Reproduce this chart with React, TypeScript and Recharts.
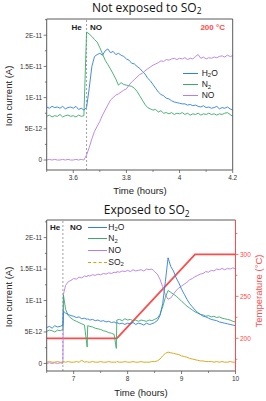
import React from 'react'
import { Line, LineChart, ReferenceLine, XAxis, YAxis } from 'recharts'

// ion currents are kept in units of 1E-12 A

// panel 1: not exposed to SO2
const timeA = [
    3.5, 3.51, 3.52, 3.53, 3.54, 3.55, 3.56, 3.57, 3.58, 3.59, 3.6, 3.61, 3.62, 3.63, 3.64, 3.65, 3.66, 3.67, 3.68, 3.69,
    3.7, 3.71, 3.72, 3.73, 3.74, 3.75, 3.76, 3.77, 3.78, 3.79, 3.8, 3.81, 3.82, 3.83, 3.84, 3.85, 3.86, 3.87, 3.88, 3.89,
    3.9, 3.91, 3.92, 3.93, 3.94, 3.95, 3.96, 3.97, 3.98, 3.99, 4, 4.01, 4.02, 4.03, 4.04, 4.05, 4.06, 4.07, 4.08, 4.09,
    4.1, 4.11, 4.12, 4.13, 4.14, 4.15, 4.16, 4.17, 4.18, 4.19, 4.2,
]
const h2oA = [
    8.5, 8.3, 8.6, 8.4, 8.5, 8.3, 8.6, 8.2, 8.4, 8.5, 8.3, 8.6, 8.1, 8.3, 8.0, 8.4,
    11.5, 15.0, 16.6, 16.9, 17.1, 16.8, 17.5, 17.8, 17.2, 17.4, 16.9, 17.1, 16.8, 16.6, 16.2,
    16.0, 15.5, 15.4, 15.0, 14.7, 14.2, 13.8, 13.1, 12.7, 12.1, 11.5, 10.9, 10.5, 10.3, 9.9, 9.8, 9.5, 9.3, 9.2,
    9.1, 9.0, 9.0, 8.8, 8.9, 8.7, 8.8, 8.6, 8.5, 8.7, 8.4, 8.5, 8.3, 8.4, 8.6, 8.2, 8.4, 8.3, 8.5, 8.2, 8.0,
]
const n2A = [
    7.0, 7.2, 6.9, 7.1, 7.0, 7.3, 6.9, 7.1, 7.2, 7.0, 7.1, 6.9, 7.2, 7.0, 7.1,
    20.5, 20.2, 19.8, 19.3, 18.9, 18.0, 17.0, 16.0, 15.3, 14.6, 13.8, 13.0, 12.0, 12.4, 12.1, 12.0, 11.9, 11.8,
    11.5, 11.0, 10.3, 9.6, 8.9, 8.4, 8.2, 8.0, 8.1, 7.7, 7.9, 7.5, 7.6, 7.4, 7.6, 7.3, 7.5,
    7.4, 7.6, 7.3, 7.5, 7.2, 7.4, 7.3, 7.5, 7.2, 7.4, 7.3, 7.5, 7.3, 7.4, 7.2, 7.4, 7.3, 7.5, 7.6, 7.3, 7.0,
]
const noA = [
    0.0, 0.1, 0.0, 0.1, 0.0, 0.0, 0.1, 0.0, 0.1, 0.0, 0.0, 0.1, 0.0, 0.1, 0.0,
    0.8, 2.0, 3.4, 4.6, 5.4, 6.2, 7.2, 8.0, 8.8, 9.6, 10.0, 10.4, 10.6, 10.9, 11.2, 11.4, 12.0, 12.5,
    12.9, 13.3, 13.7, 13.9, 14.3, 14.6, 14.9, 15.2, 15.4, 15.6, 15.9, 15.8, 16.1, 16.0, 16.2, 16.3, 16.1,
    16.3, 16.2, 16.4, 16.1, 16.3, 16.2, 16.6, 16.9, 16.3, 16.5, 16.2, 16.4, 16.3, 16.5, 16.4, 16.6, 16.7, 16.5, 16.8, 16.6, 16.7,
]

// panel 2: exposed to SO2
const timeB = [
    6.5, 6.55, 6.6, 6.65, 6.7, 6.75, 6.8, 6.81, 6.85, 6.9, 6.95, 7, 7.05, 7.1, 7.15, 7.2, 7.25, 7.26, 7.3, 7.35,
    7.4, 7.45, 7.5, 7.55, 7.6, 7.65, 7.7, 7.75, 7.79, 7.8, 7.85, 7.9, 7.95, 8, 8.05, 8.1, 8.15, 8.2, 8.25, 8.3,
    8.35, 8.4, 8.45, 8.5, 8.55, 8.6, 8.65, 8.7, 8.75, 8.8, 8.85, 8.9, 8.95, 9, 9.05, 9.1, 9.15, 9.2, 9.25, 9.3,
    9.35, 9.4, 9.45, 9.5, 9.55, 9.6, 9.65, 9.7, 9.75, 9.8, 9.85, 9.9, 9.95, 10,
]
const h2oB = [
    5.7, 5.9, 5.6, 6.0, 5.8, 5.9, 6.1, 8.3, 8.0, 7.8, 7.6, 7.5, 7.3, 7.4, 7.1, 7.2, 7.0, 7.1, 6.9, 7.0,
    6.8, 6.9, 6.7, 6.8, 6.6, 6.7, 6.5, 6.6, 6.4, 6.5, 6.3, 6.4, 6.2, 6.4, 6.3, 6.5, 6.2, 6.4, 6.3, 6.1,
    6.4, 6.2, 6.3, 6.5, 6.8, 7.6, 9.5, 13.0, 16.8, 15.4, 14.7, 13.6, 12.8, 11.8, 11.0, 10.2, 9.5, 9.0, 8.5, 8.1,
    7.8, 7.5, 7.4, 7.2, 7.0, 6.9, 6.8, 6.6, 6.5, 6.4, 6.3, 6.2, 6.1, 6.0,
]
const n2B = [
    5.1, 5.3, 5.2, 5.0, 5.3, 5.2, 5.4, 10.9, 8.6, 7.6, 7.2, 6.9, 6.7, 6.5, 6.3, 6.1, 2.6, 6.0, 5.9, 5.8,
    5.6, 5.5, 5.4, 5.2, 5.1, 4.9, 4.8, 4.6, 2.4, 6.9, 7.0, 6.8, 7.1, 6.9, 7.0, 6.8, 6.9, 6.7, 6.9, 6.8,
    6.7, 6.9, 6.8, 7.0, 7.2, 7.8, 9.0, 10.5, 11.6, 11.3, 11.0, 10.7, 10.3, 9.9, 9.5, 9.1, 8.8, 8.5, 8.2, 8.0,
    7.8, 7.7, 7.5, 7.6, 7.4, 7.5, 7.3, 7.4, 7.2, 7.1, 7.0, 6.9, 6.7, 6.6,
]
const noB = [
    0.0, 0.1, 0.0, 0.1, 0.0, 0.1, 0.0, 11.0, 12.4, 13.0, 13.2, 13.5, 13.4, 13.7, 13.6, 13.9, 13.8, 14.0, 13.9, 14.1,
    14.0, 14.2, 14.1, 14.3, 14.2, 14.4, 14.3, 14.5, 14.4, 14.6, 14.5, 14.7, 14.6, 14.8, 14.6, 14.9, 14.7, 14.8, 14.9, 14.7,
    15.0, 14.9, 15.0, 14.6, 14.2, 13.4, 12.2, 10.9, 10.2, 10.4, 11.0, 11.6, 12.0, 12.3, 12.6, 12.9, 13.3, 13.5, 13.8, 14.0,
    14.2, 14.3, 14.6, 14.5, 14.8, 14.7, 15.0, 14.9, 15.1, 14.9, 15.1, 15.0, 15.2, 15.0,
]
const so2B = [
    0.2, 0.3, 0.2, 0.2, 0.3, 0.2, 0.2, 0.3, 0.2, 0.3, 0.2, 0.2, 0.3, 0.2, 0.5, 0.2, 0.3, 0.2, 0.2, 0.3,
    0.2, 0.2, 0.3, 0.2, 0.2, 0.3, 0.2, 0.2, 0.2, 0.3, 0.2, 0.2, 0.3, 0.2, 0.2, 0.3, 0.2, 0.2, 0.3, 0.2,
    0.2, 0.2, 0.3, 0.3, 0.4, 0.7, 1.2, 1.6, 1.8, 1.7, 1.6, 1.5, 1.4, 1.2, 1.1, 1.0, 0.8, 0.7, 0.6, 0.5,
    0.4, 0.4, 0.3, 0.3, 0.3, 0.2, 0.3, 0.2, 0.3, 0.2, 0.2, 0.3, 0.2, 0.2,
]
const tempTime = [6.5, 7.8, 9.25, 10]
const tempVal = [200, 200, 300, 300]

// ticks (minor ones get no label)
const yTicks = [0, 2.5, 5, 7.5, 10, 12.5, 15, 17.5, 20, 22.5]
const yMajor = [0, 5, 10, 15, 20]
const yLabels = ['0', '5E-12', '1E-11', '1.5E-11', '2E-11']
const xTicksA = [3.5, 3.6, 3.7, 3.8, 3.9, 4, 4.1, 4.2]
const xMajorA = [3.6, 3.8, 4, 4.2]
const xLabelsA = ['3.6', '3.8', '4', '4.2']
const xTicksB = [6.5, 7, 7.5, 8, 8.5, 9, 9.5, 10]
const xMajorB = [7, 8, 9, 10]
const xLabelsB = ['7', '8', '9', '10']
const tTicks = [175, 200, 225, 250, 275, 300, 325]
const tMajor = [200, 250, 300]
const tLabels = ['200', '250', '300']

const dataA = timeA.map((t, i) => ({ t, h2o: h2oA[i], n2: n2A[i], no: noA[i] }))
const dataB = timeB.map((t, i) => ({ t, h2o: h2oB[i], n2: n2B[i], no: noB[i], so2: so2B[i] }))
const dataT = tempTime.map((t, i) => ({ t, temp: tempVal[i] }))

const BLUE = '#2f7fe4'
const GREEN = '#3aa96a'
const PURPLE = '#b57ee9'
const GOLD = '#d6a20c'
const RED = '#ff4b4b'
const GRAY = '#5a5a5a'
const SANS = '"Liberation Sans", Arial, sans-serif'
const TITLE = '"Open Sans", "Noto Sans", sans-serif'

const findMajor = (majors: number[], v: number) => majors.findIndex((m) => Math.abs(m - v) < 1e-6)

const bottomTick = (majors: number[], labels: string[]) => (p: any) => {
    const i = findMajor(majors, p.payload.value)
    const ay = p.y - 5
    return (
        <g>
            <line x1={p.x} x2={p.x} y1={ay} y2={ay + (i >= 0 ? 3 : 1.8)} stroke={GRAY} strokeWidth={0.8} />
            {i >= 0 && (
                <text x={p.x} y={ay + 10} textAnchor="middle" fontSize={6.5} fill="#333" fontFamily={SANS}>
                    {labels[i]}
                </text>
            )}
        </g>
    )
}

const sideTick = (side: 'left' | 'right', majors: number[], labels: string[], color: string, textColor: string) => (p: any) => {
    const i = findMajor(majors, p.payload.value)
    const dir = side === 'left' ? -1 : 1
    const ax = Number(p.x) - dir * 5
    const y = Number(p.y)
    return (
        <g>
            <line x1={ax} x2={ax + dir * (i >= 0 ? 3 : 1.8)} y1={y} y2={y} stroke={color} strokeWidth={0.8} />
            {i >= 0 && (
                <text
                    x={ax + dir * 4.5}
                    y={y + 2.3}
                    textAnchor={side === 'left' ? 'end' : 'start'}
                    fontSize={6.5}
                    fill={textColor}
                    fontFamily={SANS}
                >
                    {labels[i]}
                </text>
            )}
        </g>
    )
}

const Sub = ({ children }: { children: React.ReactNode }) => (
    <span style={{ fontSize: '0.7em', position: 'relative', top: '0.3em' }}>{children}</span>
)

const Txt = ({ x, y, size = 9.5, color = '#222', bold = false, rot = 0, font = SANS, left = false, children }: any) => (
    <div
        style={{
            position: 'absolute',
            left: x,
            top: y,
            transform: `translate(${left ? '0' : '-50%'}, -50%) rotate(${rot}deg)`,
            fontSize: size,
            color,
            fontWeight: bold ? 700 : 400,
            fontFamily: font,
            whiteSpace: 'nowrap',
            lineHeight: 1,
        }}
    >
        {children}
    </div>
)

const Key = ({ x1, x2, y, color, dashed = false }: any) => (
    <div
        style={{
            position: 'absolute',
            left: x1,
            top: y,
            width: x2 - x1,
            borderTop: `1px ${dashed ? 'dashed' : 'solid'} ${color}`,
        }}
    />
)

const seriesProps = { type: 'linear' as const, dot: false, strokeWidth: 0.9, isAnimationActive: false }

const App = () => {
    return (
        <div style={{ position: 'absolute', left: 0, top: 0, width: 266, height: 401, background: '#fff' }}>
            {/* top panel */}
            <div style={{ position: 'absolute', left: 0, top: 0 }}>
                <LineChart width={266} height={200} data={dataA} margin={{ top: 0, right: 0, bottom: 0, left: 0 }}>
                    <XAxis
                        dataKey="t"
                        type="number"
                        domain={[3.5, 4.2]}
                        ticks={xTicksA}
                        interval={0}
                        height={30}
                        tickSize={3}
                        tickMargin={2}
                        tickLine={false}
                        stroke={GRAY}
                        tick={bottomTick(xMajorA, xLabelsA)}
                    />
                    <XAxis xAxisId="frame" orientation="top" type="number" domain={[3.5, 4.2]} height={19} tick={false} tickLine={false} stroke={GRAY} />
                    <YAxis
                        type="number"
                        domain={[-1.6, 22.6]}
                        ticks={yTicks}
                        interval={0}
                        width={46.7}
                        tickSize={3}
                        tickMargin={2}
                        tickLine={false}
                        stroke={GRAY}
                        allowDataOverflow
                        tick={sideTick('left', yMajor, yLabels, GRAY, '#333')}
                    />
                    <YAxis yAxisId="frame" orientation="right" width={33.3} tick={false} tickLine={false} stroke={GRAY} />
                    <ReferenceLine x={3.65} stroke="#888" strokeDasharray="2 2" strokeWidth={0.8} />
                    <Line dataKey="h2o" stroke={BLUE} {...seriesProps} />
                    <Line dataKey="n2" stroke={GREEN} {...seriesProps} />
                    <Line dataKey="no" stroke={PURPLE} {...seriesProps} />
                </LineChart>
            </div>

            {/* bottom panel */}
            <div style={{ position: 'absolute', left: 0, top: 200 }}>
                <LineChart width={266} height={201} data={dataB} margin={{ top: 0, right: 0, bottom: 0, left: 0 }}>
                    <XAxis
                        dataKey="t"
                        type="number"
                        domain={[6.5, 10]}
                        ticks={xTicksB}
                        interval={0}
                        height={30}
                        tickSize={3}
                        tickMargin={2}
                        tickLine={false}
                        stroke={GRAY}
                        tick={bottomTick(xMajorB, xLabelsB)}
                    />
                    <XAxis xAxisId="frame" orientation="top" type="number" domain={[6.5, 10]} height={20} tick={false} tickLine={false} stroke={GRAY} />
                    <YAxis
                        type="number"
                        domain={[-1.2, 22.8]}
                        ticks={yTicks}
                        interval={0}
                        width={46.7}
                        tickSize={3}
                        tickMargin={2}
                        tickLine={false}
                        stroke={GRAY}
                        allowDataOverflow
                        tick={sideTick('left', yMajor, yLabels, GRAY, '#333')}
                    />
                    <YAxis
                        yAxisId="temp"
                        orientation="right"
                        type="number"
                        domain={[161, 341]}
                        ticks={tTicks}
                        interval={0}
                        width={30.5}
                        tickSize={3}
                        tickMargin={2}
                        tickLine={false}
                        stroke={RED}
                        allowDataOverflow
                        tick={sideTick('right', tMajor, tLabels, RED, RED)}
                    />
                    <ReferenceLine x={6.8} stroke="#888" strokeDasharray="2 2" strokeWidth={0.8} />
                    <Line data={dataT} dataKey="temp" yAxisId="temp" stroke={RED} {...seriesProps} strokeWidth={1.8} />
                    <Line dataKey="no" stroke={PURPLE} {...seriesProps} />
                    <Line dataKey="n2" stroke={GREEN} {...seriesProps} />
                    <Line dataKey="h2o" stroke={BLUE} {...seriesProps} />
                    <Line dataKey="so2" stroke={GOLD} {...seriesProps} />
                </LineChart>
            </div>

            {/* text, top panel */}
            <Txt x={146.7} y={7.5} size={12} font={TITLE} color="#111">
                Not exposed to SO<Sub>2</Sub>
            </Txt>
            <Txt x={9} y={96} rot={-90}>Ion current (A)</Txt>
            <Txt x={140} y={191}>Time (hours)</Txt>
            <Txt x={76.7} y={28.3} size={8} bold>He</Txt>
            <Txt x={96} y={28.3} size={8} bold>NO</Txt>
            <Txt x={212.7} y={28.3} size={8} bold color={RED}>200 °C</Txt>
            <Key x1={183.3} x2={198.3} y={72.7} color={BLUE} />
            <Key x1={183.3} x2={198.3} y={84} color={GREEN} />
            <Key x1={183.3} x2={198.3} y={94.7} color={PURPLE} />
            <Txt x={201.7} y={72.7} size={8.5} left>H<Sub>2</Sub>O</Txt>
            <Txt x={201.7} y={84} size={8.5} left>N<Sub>2</Sub></Txt>
            <Txt x={201.7} y={94.7} size={8.5} left>NO</Txt>

            {/* text, bottom panel */}
            <Txt x={146.7} y={210} size={12} font={TITLE} color="#111">
                Exposed to SO<Sub>2</Sub>
            </Txt>
            <Txt x={9} y={297} rot={-90}>Ion current (A)</Txt>
            <Txt x={141} y={393}>Time (hours)</Txt>
            <Txt x={259} y={291} rot={-90} color={RED}>Temperature (°C)</Txt>
            <Txt x={55} y={228.3} size={8} bold>He</Txt>
            <Txt x={76} y={228.3} size={8} bold>NO</Txt>
            <Key x1={88.3} x2={106.7} y={226.7} color={BLUE} />
            <Key x1={88.3} x2={106.7} y={238.3} color={GREEN} />
            <Key x1={88.3} x2={106.7} y={250} color={PURPLE} />
            <Key x1={88.3} x2={106.7} y={261.5} color={GOLD} dashed />
            <Txt x={108.3} y={226.7} size={8.5} left>H<Sub>2</Sub>O</Txt>
            <Txt x={108.3} y={238.3} size={8.5} left>N<Sub>2</Sub></Txt>
            <Txt x={108.3} y={250} size={8.5} left>NO</Txt>
            <Txt x={108.3} y={261.5} size={8.5} left>SO<Sub>2</Sub></Txt>
        </div>
    )
}

export default App
